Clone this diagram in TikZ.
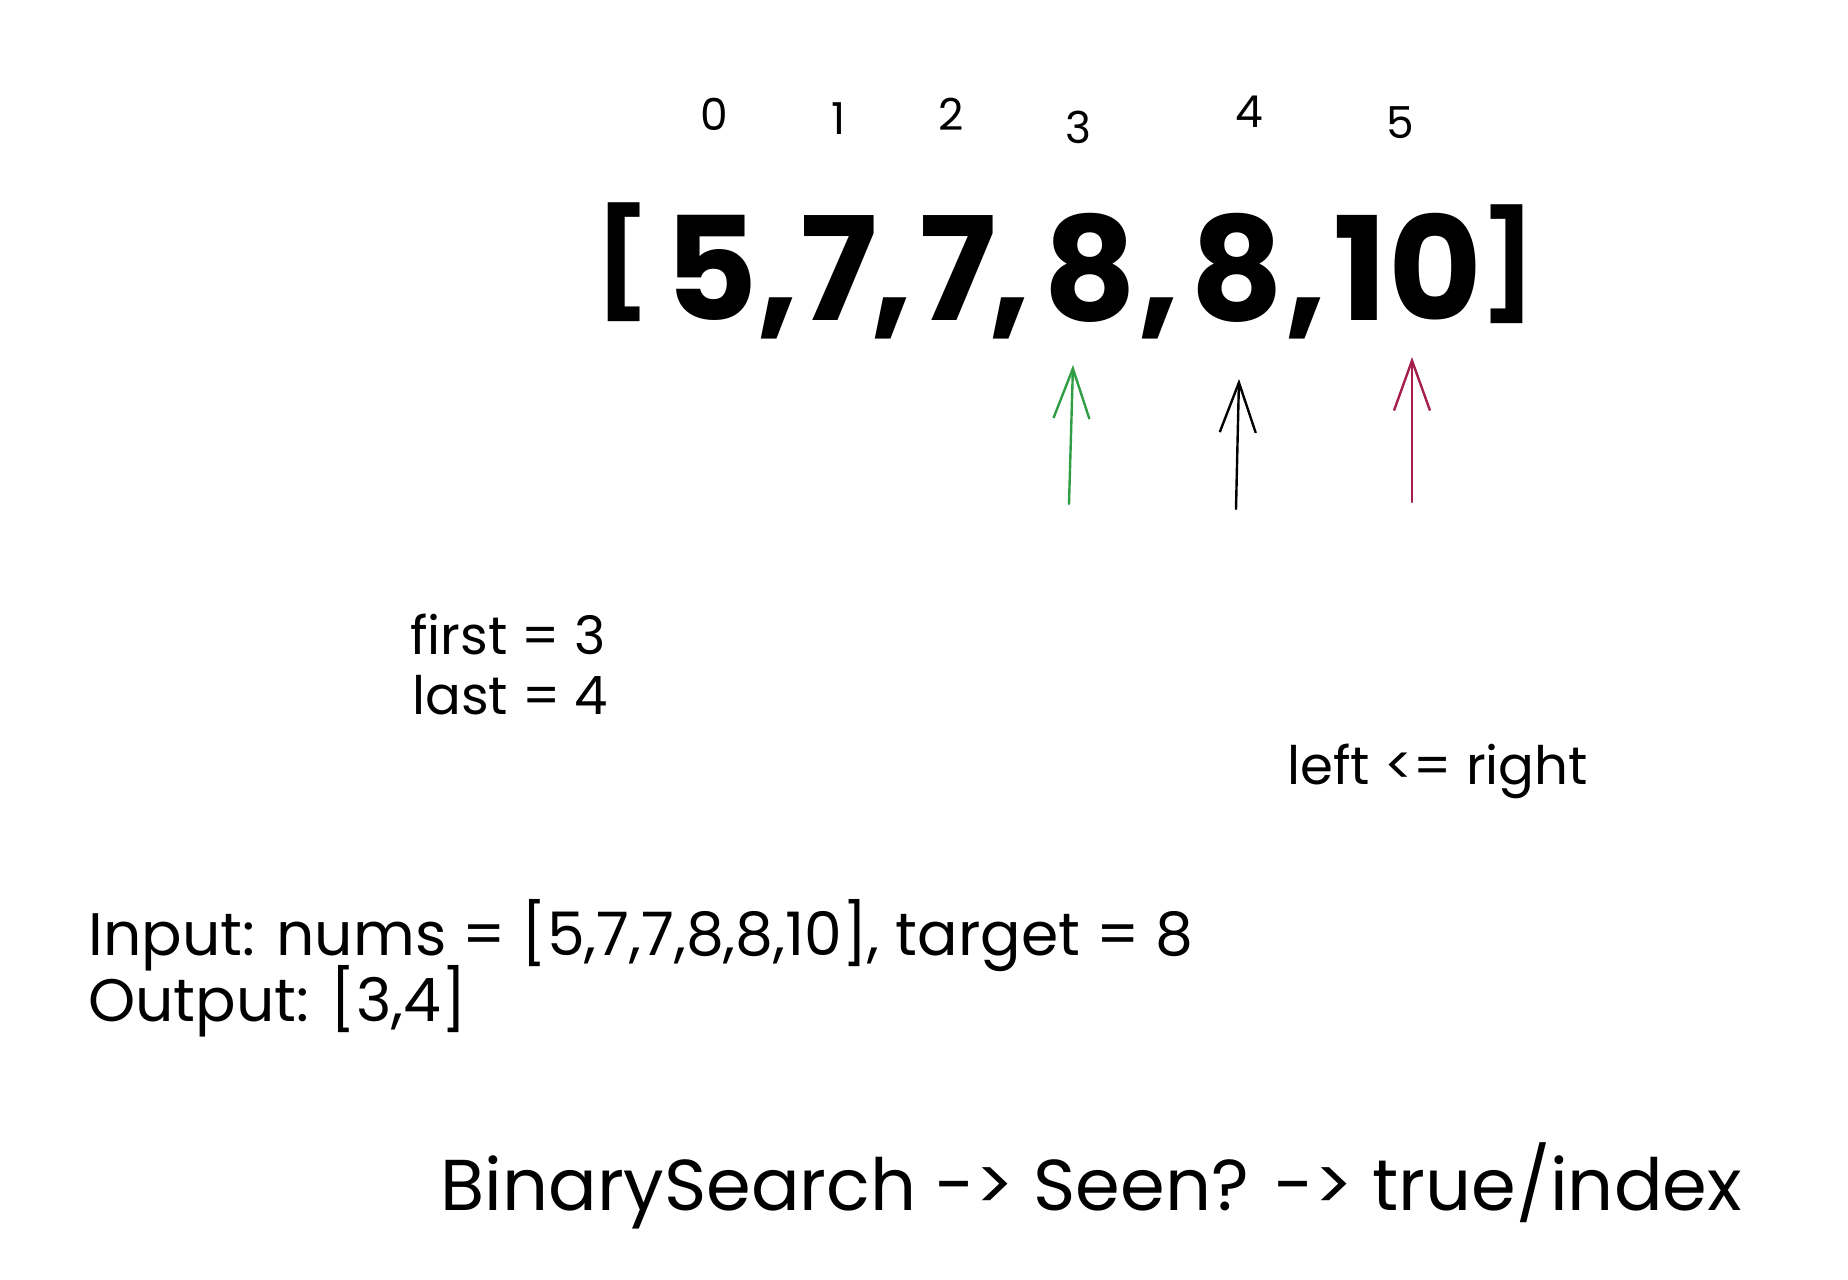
\documentclass[tikz,border=0pt]{standalone}
\usepackage{fontspec}
\setmainfont{Poppins}
\usetikzlibrary{arrows.meta}
\definecolor{pointerGreen}{HTML}{2F9E44}
\definecolor{pointerRed}{HTML}{A61E4D}

\begin{document}
\begin{tikzpicture}[x=0.5pt, y=-0.5pt,
    idx/.style={inner sep=0pt, font=\fontsize{22}{22}\selectfont},
    elem/.style={anchor=base, inner sep=0pt, font=\fontsize{72}{72}\selectfont\bfseries},
    brack/.style={elem, font=\fontsize{53}{53}\selectfont\bfseries},
    note/.style={anchor=base west, inner sep=0pt, font=\fontsize{26.5}{30}\selectfont},
    pointer/.style={line width=1.2pt, line cap=round, -{Straight Barb[length=25pt, width=18pt, line width=1.2pt]}}]
    \useasboundingbox (0,0) rectangle (1848,1280);
    \foreach \i/\x/\y in {0/714/114, 1/839/119, 2/951/114, 3/1078/127, 4/1249/112, 5/1400/123}
        \node[idx] (i\i) at (\x,\y) {\i};
    \node[brack] (lb) at (623,299) {[};
    \node[brack] (rb) at (1509,301) {]};
    \foreach \n/\x/\t in {e0/711/5, c0/778/{,}, e1/839/7, c1/892/{,}, e2/958/7, c2/1010/{,},
                         e3/1090/8, c3/1159/{,}, e4/1237/8, c4/1306/{,}, e5/1408/10}
        \node[elem] (\n) at (\x,320) {\t};
    \coordinate (gTail) at (1069,504);
    \coordinate (gTip) at (1073,365);
    \coordinate (kTail) at (1236,509);
    \coordinate (kTip) at (1239,379);
    \coordinate (rTail) at (1412,502);
    \coordinate (rTip) at (1412,357);
    \draw[pointer, pointerGreen] (gTail) -- (gTip);
    \draw[pointer, black] (kTail) -- (kTip);
    \draw[pointer, pointerRed] (rTail) -- (rTip);
    \node[note] (first) at (410,654) {first = 3};
    \node[note] (last) at (412,714) {last = 4};
    \node[note] (cond) at (1287,784) {left <= right};
    \node[note, font=\fontsize{30}{34}\selectfont] (input) at (88,955) {Input: nums = [5,7,7,8,8,10], target = 8};
    \node[note, font=\fontsize{30}{34}\selectfont] (output) at (88,1021) {Output: [3,4]};
    \node[note, font=\fontsize{36}{40}\selectfont] (flow) at (440,1210) {BinarySearch -> Seen? -> true/index};
\end{tikzpicture}
\end{document}
